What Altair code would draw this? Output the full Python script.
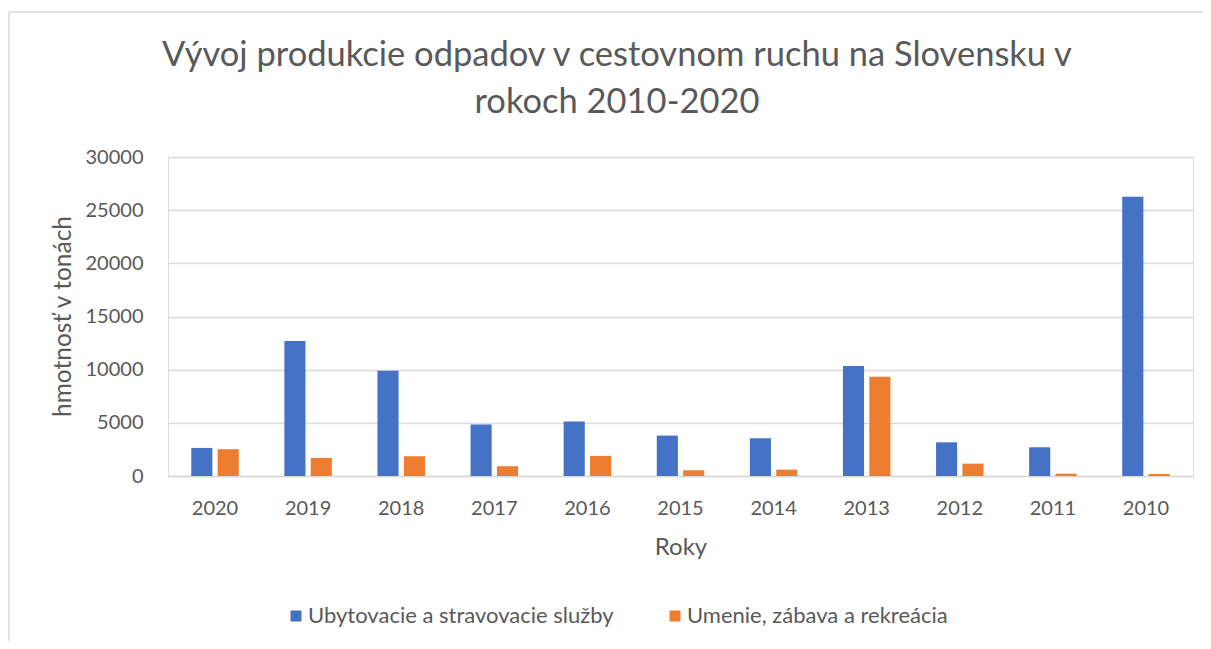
import altair as alt
import pandas as pd

years = ["2020", "2019", "2018", "2017", "2016", "2015", "2014", "2013", "2012", "2011", "2010"]
ubytovanie = [2640, 12700, 9900, 4850, 5130, 3800, 3550, 10340, 3170, 2700, 26270]
umenie = [2520, 1700, 1850, 920, 1890, 540, 600, 9330, 1160, 220, 190]
series = ["Ubytovacie a stravovacie služby", "Umenie, zábava a rekreácia"]
colors = ["#4472C4", "#ED7D31"]
title_lines = ["Vývoj produkcie odpadov v cestovnom ruchu na Slovensku v", "rokoch 2010-2020"]

rows = []
for i, y in enumerate(years):
    rows.append({"Rok": y, "Séria": series[0], "Hodnota": ubytovanie[i]})
    rows.append({"Rok": y, "Séria": series[1], "Hodnota": umenie[i]})
df = pd.DataFrame(rows)

FONT = "Lato"
GRAY = "#595959"
GRID = "#d9d9d9"

bars = alt.Chart(df).mark_bar().encode(
    x=alt.X("Rok:N", sort=years,
            scale=alt.Scale(paddingInner=0.49, paddingOuter=0.25),
            axis=alt.Axis(title="Roky", labelAngle=0, labelFont=FONT, labelFontSize=20,
                          labelColor=GRAY, labelPadding=38, labelBaseline="alphabetic",
                          ticks=False, domainColor=GRID, domainWidth=1.5,
                          titleFont=FONT, titleFontSize=24, titleFontWeight="normal",
                          titleColor=GRAY, titleY=78, titleBaseline="alphabetic")),
    xOffset=alt.XOffset("Séria:N", sort=series,
                        scale=alt.Scale(paddingInner=0.2, paddingOuter=0)),
    y=alt.Y("Hodnota:Q",
            scale=alt.Scale(domain=[0, 30000], nice=False),
            axis=alt.Axis(title="hmotnosť v tonách", values=[0, 5000, 10000, 15000, 20000, 25000, 30000],
                          format="d", labelFont=FONT, labelFontSize=20, labelColor=GRAY,
                          labelPadding=25, ticks=False, domain=False,
                          gridColor=GRID, gridWidth=1.5,
                          titleFont=FONT, titleFontSize=24.5, titleFontWeight="normal",
                          titleColor=GRAY, titleX=-98, titleY=159, titleAngle=-90,
                          titleAlign="center", titleBaseline="alphabetic")),
    color=alt.Color("Séria:N", sort=series,
                    scale=alt.Scale(domain=series, range=colors),
                    legend=alt.Legend(title=None, orient="none", direction="horizontal",
                                      legendX=117, legendY=448,
                                      symbolType="square", symbolSize=121,
                                      symbolStrokeWidth=0, labelLimit=600,
                                      labelFont=FONT, labelFontSize=22, labelColor=GRAY,
                                      labelOffset=1, columnPadding=50)),
)

frame_src = pd.DataFrame({"a": [0]})
border_top = alt.Chart(frame_src).mark_rule(stroke=GRID, strokeWidth=1.5).encode(
    x=alt.value(-159), x2=alt.value(1045), y=alt.value(-145),
)
border_left = alt.Chart(frame_src).mark_rule(stroke=GRID, strokeWidth=1.5).encode(
    x=alt.value(-159), y=alt.value(-145), y2=alt.value(500),
)

title1 = alt.Chart(pd.DataFrame({"t": [title_lines[0]]})).mark_text(
    font=FONT, fontSize=34.5, fontWeight="normal", color=GRAY, align="center", baseline="alphabetic"
).encode(text="t:N", x=alt.value(449), y=alt.value(-91))
title2 = alt.Chart(pd.DataFrame({"t": [title_lines[1]]})).mark_text(
    font=FONT, fontSize=34.5, fontWeight="normal", color=GRAY, align="center", baseline="alphabetic"
).encode(text="t:N", x=alt.value(449), y=alt.value(-44))

chart = alt.layer(border_top, border_left, bars, title1, title2).properties(
    width=1025,
    height=319,
    padding={"left": 160, "top": 149, "right": 10, "bottom": 165},
    autosize=alt.AutoSizeParams(type="none"),
).configure_view(stroke=None).configure(background="white")

chart.save("out.html", embed_options={"renderer": "svg", "actions": False})
